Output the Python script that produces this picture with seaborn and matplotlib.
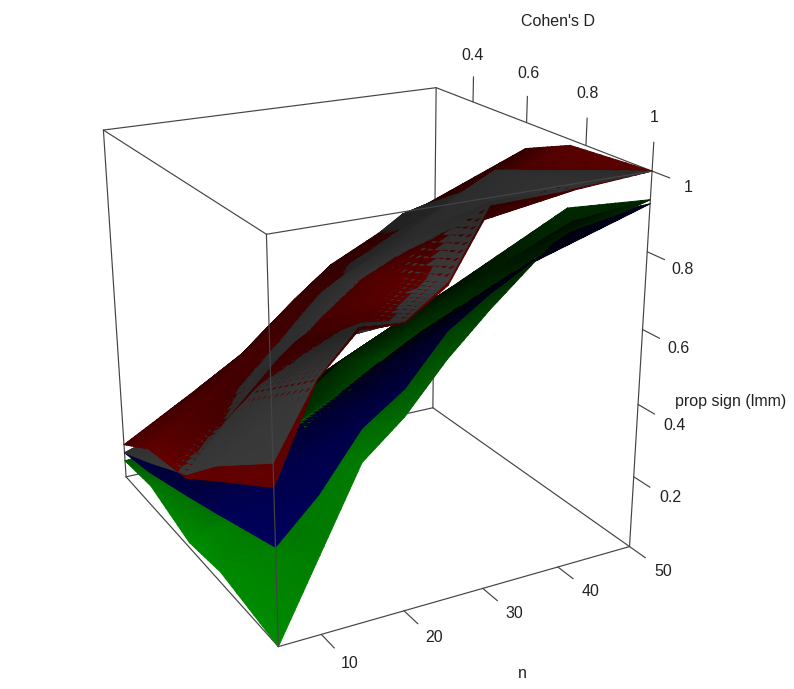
import numpy as np
import matplotlib
matplotlib.use('Agg')
import matplotlib.pyplot as plt
import seaborn as sns
from mpl_toolkits.mplot3d.art3d import Poly3DCollection

sns.set_theme(style='white')
plt.rcParams['font.family'] = ['Liberation Sans', 'DejaVu Sans']

n_vals = [5, 10, 15, 20, 25, 30, 40, 50]
d_vals = [0.25, 0.4, 0.6, 0.75, 1.0]

green_vals = [[.05, .06, .07, .09, .11, .14, .26, .36],
              [.06, .08, .10, .14, .20, .30, .37, .48],
              [.015, .10, .20, .30, .43, .483, .58, .64],
              [.03, .18, .385, .44, .505, .565, .687, .82],
              [0, .21, .42, .51, .63, .73, .91, .93]]
blue_vals = [[.075, .08, .085, .09, .11, .14, .25, .35],
             [.10, .11, .13, .16, .20, .27, .37, .47],
             [.15, .18, .22, .28, .34, .40, .52, .60],
             [.19, .26, .38, .437, .50, .558, .656, .78],
             [.26, .365, .505, .58, .70, .77, .885, .92]]
red_vals = [[.10, .16, .22, .275, .36, .42, .56, .62],
            [.17, .24, .32, .42, .52, .60, .70, .74],
            [.20, .33, .44, .54, .63, .68, .81, .93],
            [.28, .49, .60, .66, .74, .80, .93, .985],
            [.41, .645, .75, .74, .81, .98, .985, 1]]
grey_vals = [[.075, .11, .16, .24, .32, .38, .56, .65],
             [.13, .19, .28, .38, .48, .58, .71, .76],
             [.21, .33, .46, .56, .66, .71, .825, .89],
             [.32, .495, .58, .64, .72, .82, .95, .92],
             [.47, .65, .76, .745, .82, .99, .99, 1]]

W, H = 794, 689
fig = plt.figure(figsize=(W / 100, H / 100), dpi=100)
ax = fig.add_subplot(projection='3d')
ax.set_xlim(0.25, 1, view_margin=0)
ax.set_ylim(5, 50, view_margin=0)
ax.set_zlim(0, 1, view_margin=0)

elev, azim, roll = 21.4369, -27.885, 0.3454
focal = 0.4667
aspect = np.array([1.0203, 1.0122, 1.0131])
ax.view_init(elev=elev, azim=azim, roll=roll)
ax.set_proj_type('persp', focal_length=focal)
ax.set_box_aspect(tuple(aspect))
ax.set_position([31.04 / W, 16.82 / H, 651.5 / W, 651.5 / H])
ax.set_axis_off()
ax.computed_zorder = False

el, az = np.radians(elev), np.radians(azim)
view = np.array([np.cos(el) * np.cos(az), np.cos(el) * np.sin(az), np.sin(el)])
# box sides and eye position as mplot3d works them out
box = aspect * 1.8294640721620434 / np.linalg.norm(aspect)
eye = 0.5 * box + 10 * focal * view


def facets(vals, base, amb, dif, sub=10):
    D, N = np.meshgrid(d_vals, n_vals, indexing='ij')
    Z = np.array(vals, float)
    P = np.stack([D, N, Z], -1)
    B = np.stack([(D - .25) / .75 * box[0], (N - 5) / 45 * box[1], Z * box[2]], -1)
    nrm = np.cross(np.gradient(B, axis=0), np.gradient(B, axis=1))
    nrm /= np.linalg.norm(nrm, axis=-1, keepdims=True)
    I = np.abs(nrm @ view)
    out = []

    def tri(a, b, c):
        Pabc = np.array([P[a], P[b], P[c]])
        Iabc = np.array([I[a], I[b], I[c]])
        Babc = np.array([B[a], B[b], B[c]])
        for i in range(sub):
            for j in range(sub - i):
                cells = [[(i, j), (i + 1, j), (i, j + 1)]]
                if i + j < sub - 1:
                    cells.append([(i + 1, j), (i + 1, j + 1), (i, j + 1)])
                for w in cells:
                    bary = np.array([[1 - (u + v) / sub, u / sub, v / sub] for u, v in w])
                    pts = bary @ Pabc
                    val = (bary @ Iabc).mean()
                    foot = (bary @ Babc).mean(0)
                    key = -np.hypot(foot[0] - eye[0], foot[1] - eye[1])
                    out.append((round(key, 6), foot[2], pts, np.clip(np.array(base) * (amb + dif * val), 0, 1)))

    for i in range(Z.shape[0] - 1):
        for j in range(Z.shape[1] - 1):
            tri((i, j), (i + 1, j), (i + 1, j + 1))
            tri((i, j), (i + 1, j + 1), (i, j + 1))
    return out


palette = sns.color_palette([(0, .75, 0), (0, 0, .66), (.7, 0, 0), (.38, .38, .38)])
shade = [(.05, 1.15), (.05, 1.15), (.15, 1.0), (.3, .85)]
items = []
for vals, col, (amb, dif) in zip([green_vals, blue_vals, red_vals, grey_vals], palette, shade):
    items += facets(vals, col, amb, dif)
# back to front over the shared footprint, lower surface first
items.sort(key=lambda t: (t[0], t[1]))
polys = [t[2] for t in items]
cols = [t[3] for t in items]
surf = Poly3DCollection(polys, facecolors=cols, edgecolors=cols, linewidths=0.7, zorder=3)
surf._zsortfunc = lambda z: 0.0
ax.add_collection3d(surf, autolim=False)

line_kw = dict(color='#444444', lw=0.85)
back_edges = [[(1, 5, 0), (1, 50, 0)], [(1, 50, 0), (.25, 50, 0)], [(.25, 50, 0), (.25, 5, 0)],
              [(.25, 5, 0), (1, 5, 0)], [(.25, 5, 1), (.25, 50, 1)], [(.25, 50, 1), (1, 50, 1)],
              [(.25, 5, 1), (1, 5, 1)], [(.25, 5, 0), (.25, 5, 1)], [(.25, 50, 0), (.25, 50, 1)]]
front_edges = [[(1, 5, 0), (1, 5, 1)], [(1, 5, 1), (1, 50, 1)], [(1, 50, 0), (1, 50, 1)]]
for a, b in back_edges:
    ax.plot(*zip(a, b), zorder=1, **line_kw)
for a, b in front_edges:
    ax.plot(*zip(a, b), zorder=5, **line_kw)
for t in [10, 20, 30, 40, 50]:
    ax.plot([1, 1.05], [t, t], [0, 0], zorder=1, **line_kw)
for t in [.4, .6, .8, 1]:
    ax.plot([t, t], [50, 50], [1, 1.07], zorder=1, **line_kw)
for t in [.2, .4, .6, .8, 1]:
    ax.plot([1, 1.05], [50, 50], [t, t], zorder=1, **line_kw)

labels = [('Cohen\'s D', 558, 22), ('0.4', 473, 55), ('0.6', 528, 74), ('0.8', 588, 94), ('1', 654, 117),
          ('1', 688, 187), ('0.8', 683, 270), ('0.6', 679, 349), ('0.4', 675, 425), ('0.2', 670, 498),
          ('prop sign (lmm)', 731, 401), ('10', 350, 663), ('20', 434, 638), ('30', 514, 614),
          ('40', 591, 591), ('50', 663, 571), ('n', 522, 673)]
for txt, x, y in labels:
    fig.text(x / W, 1 - y / H, txt, ha='center', va='center', fontsize=11.5, color='#222222')

fig.savefig('out.png', dpi=100)
